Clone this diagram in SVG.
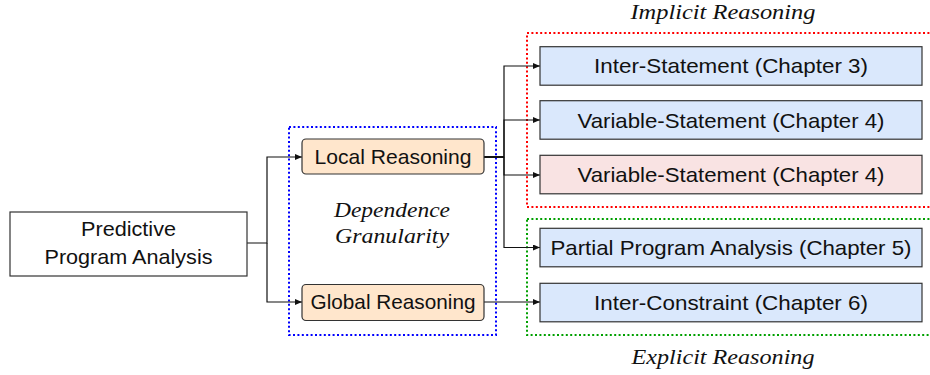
<svg xmlns="http://www.w3.org/2000/svg" width="930" height="375" viewBox="0 0 930 375">
<style>
.sans{font-family:"Liberation Sans","DejaVu Sans",sans-serif;font-size:21px;fill:#111;text-anchor:middle}
.it{font-family:"Liberation Serif","DejaVu Serif",serif;font-style:italic;font-size:22px;fill:#111;text-anchor:middle}
.plain{fill:#fff;stroke:#333;stroke-width:1.2}
.peach{fill:#ffe6cc;stroke:#333;stroke-width:1.2}
.blue{fill:#dae8fc;stroke:#333;stroke-width:1.2}
.pink{fill:#f9e3e3;stroke:#333;stroke-width:1.2}
.dot{fill:none;stroke-width:2;stroke-dasharray:2 2.4}
.conn path{fill:none;stroke:#111;stroke-width:1.2}
</style>
<defs>
<marker id="arr" markerUnits="userSpaceOnUse" markerWidth="8" markerHeight="6" refX="7" refY="3" orient="auto">
<path d="M0,0 L7,3 L0,6 z" fill="#111"/>
</marker>
</defs>

<g id="groups">
<rect x="289" y="127" width="207" height="208" class="dot" stroke="#0000ff"/>
<rect x="527" y="33" width="420" height="174" class="dot" stroke="#ff0000"/>
<rect x="527" y="219" width="420" height="116" class="dot" stroke="#00a000"/>
<text class="it" x="392" y="217" textLength="116" lengthAdjust="spacingAndGlyphs">Dependence</text>
<text class="it" x="392" y="243" textLength="114" lengthAdjust="spacingAndGlyphs">Granularity</text>
<text class="it" x="723" y="19" textLength="185" lengthAdjust="spacingAndGlyphs">Implicit Reasoning</text>
<text class="it" x="723" y="364" textLength="183" lengthAdjust="spacingAndGlyphs">Explicit Reasoning</text>
</g>

<g class="conn" id="connectors">
<path d="M247,243 H267 V157 H302" marker-end="url(#arr)"/>
<path d="M267,243 V302 H302" marker-end="url(#arr)"/>
<path d="M484,157 H504 V66 H540" marker-end="url(#arr)"/>
<path d="M504,157 V120 H540" marker-end="url(#arr)"/>
<path d="M504,157 V175 H540" marker-end="url(#arr)"/>
<path d="M504,157 V247.5 H540" marker-end="url(#arr)"/>
<path d="M484,157 H504" style="stroke-width:2"/>
<path d="M484,302 H540" marker-end="url(#arr)"/>
</g>

<g id="predictive">
<rect x="10" y="212" width="237" height="64" class="plain"/>
<text class="sans" x="128.5" y="236" textLength="95" lengthAdjust="spacingAndGlyphs">Predictive</text>
<text class="sans" x="128.5" y="264" textLength="168" lengthAdjust="spacingAndGlyphs">Program Analysis</text>
</g>

<g id="local">
<rect x="302" y="139" width="182" height="35" rx="4" class="peach"/>
<text class="sans" x="393" y="163.5" textLength="157" lengthAdjust="spacingAndGlyphs">Local Reasoning</text>
</g>

<g id="global">
<rect x="302" y="284.5" width="182" height="36" rx="4" class="peach"/>
<text class="sans" x="393" y="309" textLength="165" lengthAdjust="spacingAndGlyphs">Global Reasoning</text>
</g>

<g id="inter-statement">
<rect x="540" y="46.7" width="382" height="38.5" class="blue"/>
<text class="sans" x="731" y="73" textLength="274" lengthAdjust="spacingAndGlyphs">Inter-Statement (Chapter 3)</text>
</g>

<g id="variable-statement-1">
<rect x="540" y="100.7" width="382" height="38.5" class="blue"/>
<text class="sans" x="731" y="127.5" textLength="307" lengthAdjust="spacingAndGlyphs">Variable-Statement (Chapter 4)</text>
</g>

<g id="variable-statement-2">
<rect x="540" y="155.3" width="382" height="38.5" class="pink"/>
<text class="sans" x="731" y="182" textLength="307" lengthAdjust="spacingAndGlyphs">Variable-Statement (Chapter 4)</text>
</g>

<g id="partial">
<rect x="540" y="228.3" width="382" height="38.5" class="blue"/>
<text class="sans" x="731" y="255" textLength="361" lengthAdjust="spacingAndGlyphs">Partial Program Analysis (Chapter 5)</text>
</g>

<g id="inter-constraint">
<rect x="540" y="283.3" width="382" height="38.5" class="blue"/>
<text class="sans" x="731" y="310" textLength="274" lengthAdjust="spacingAndGlyphs">Inter-Constraint (Chapter 6)</text>
</g>
</svg>
